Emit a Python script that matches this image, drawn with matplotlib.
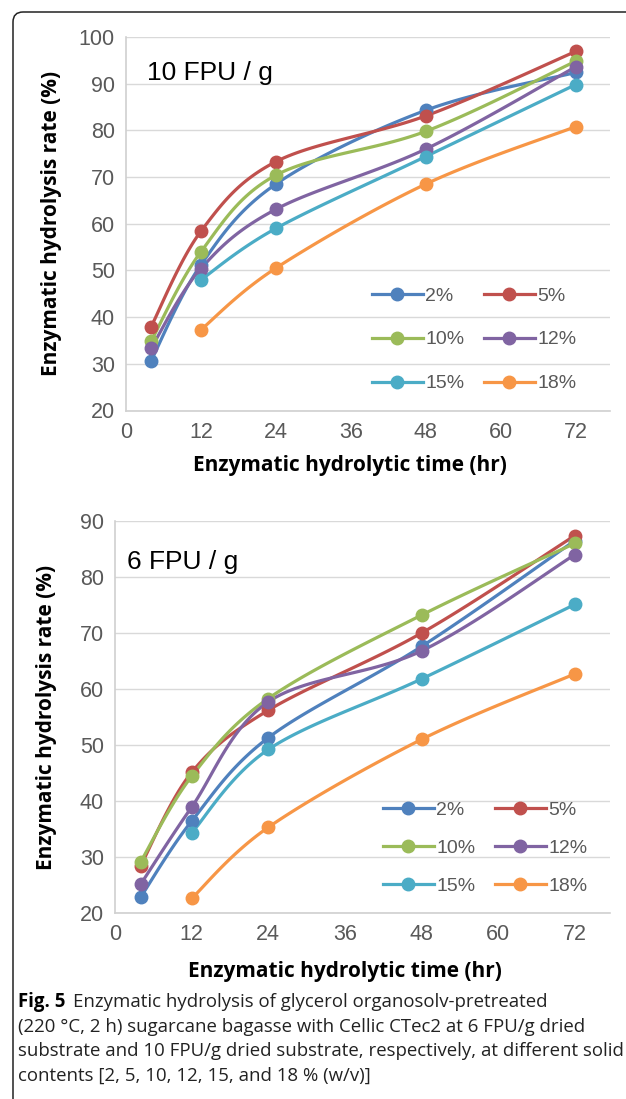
import numpy as np
import matplotlib.pyplot as plt
from matplotlib.lines import Line2D
from matplotlib.patches import FancyBboxPatch

# sampling times (hr)
hours = [4, 12, 24, 48, 72]
series_labels = ["2%", "5%", "10%", "12%", "15%", "18%"]
colors = ["#4F81BD", "#C0504D", "#9BBB59", "#8064A2", "#4BACC6", "#F79646"]

# 10 FPU/g, hydrolysis rate (%)
fpu10_2 = [30.6, 51.2, 68.5, 84.3, 92.4]
fpu10_5 = [37.9, 58.4, 73.3, 83.1, 96.9]
fpu10_10 = [34.8, 54.0, 70.4, 79.8, 94.8]
fpu10_12 = [33.3, 50.4, 63.1, 76.0, 93.6]
fpu10_15 = [np.nan, 48.0, 59.0, 74.4, 89.8]
fpu10_18 = [np.nan, 37.3, 50.5, 68.5, 80.8]

# 6 FPU/g, hydrolysis rate (%)
fpu6_2 = [22.8, 36.4, 51.3, 67.6, 86.5]
fpu6_5 = [28.4, 45.1, 56.2, 70.0, 87.4]
fpu6_10 = [29.1, 44.4, 58.3, 73.2, 86.0]
fpu6_12 = [25.1, 38.9, 57.7, 66.8, 84.0]
fpu6_15 = [np.nan, 34.3, 49.2, 61.8, 75.1]
fpu6_18 = [np.nan, 22.6, 35.3, 51.0, 62.7]

W, H = 626, 1099
fig = plt.figure(figsize=(W / 100, H / 100), dpi=100)
fig.patch.set_facecolor("white")

tick_font = ["Liberation Sans", "DejaVu Sans"]
label_font = ["Open Sans", "DejaVu Sans"]


def px(x, y):
    # pixel (from top-left) -> figure fraction
    return x / W, 1 - y / H


def smooth(xs, ys, n=30):
    # excel-like smoothed line (bezier through points)
    pts = [(x, y) for x, y in zip(xs, ys) if not np.isnan(y)]
    p = np.array(pts, dtype=float)
    out = []
    for i in range(len(p) - 1):
        p0 = p[i - 1] if i > 0 else p[i]
        p3 = p[i + 2] if i + 2 < len(p) else p[i + 1]
        c1 = p[i] + (p[i + 1] - p0) / 6
        c2 = p[i + 1] - (p3 - p[i]) / 6
        t = np.linspace(0, 1, n)[:, None]
        seg = ((1 - t) ** 3) * p[i] + 3 * ((1 - t) ** 2) * t * c1 + 3 * (1 - t) * t ** 2 * c2 + t ** 3 * p[i + 1]
        out.append(seg if i == 0 else seg[1:])
    out = np.vstack(out)
    return out[:, 0], out[:, 1]


def panel(rect, data, ylim, yticks, title, title_xy, leg_xy, leg_spacing, xlab_xy, ylab_x):
    ax = fig.add_axes(rect)
    for vals, c in zip(data, colors):
        sx, sy = smooth(hours, vals)
        ax.plot(sx, sy, color=c, lw=2.3, solid_capstyle="round", zorder=3)
        ax.plot(hours, vals, "o", color=c, ms=9, zorder=4)
    ax.set_xlim(0, 77.5)
    ax.set_ylim(*ylim)
    ax.set_xticks(range(0, 73, 12))
    ax.set_yticks(yticks)
    ax.grid(axis="y", color="#D9D9D9", lw=1)
    ax.set_axisbelow(True)
    for s in ["top", "right"]:
        ax.spines[s].set_visible(False)
    for s in ["left", "bottom"]:
        ax.spines[s].set_color("#D0D0D0")
        ax.spines[s].set_linewidth(1.2)
    ax.tick_params(length=0, labelsize=15.5, labelcolor="#595959", pad=8)
    for lab in ax.get_xticklabels() + ax.get_yticklabels():
        lab.set_family(tick_font)
    ax.text(*title_xy, title, transform=fig.transFigure, fontsize=19,
            family=tick_font, color="black", va="center", ha="left")
    # legend filled row by row like the original (2%, 5% / 10%, 12% / 15%, 18%)
    order = [0, 2, 4, 1, 3, 5]
    handles = [Line2D([], [], color=colors[i], lw=2.3, marker="o", ms=9) for i in order]
    labels = [series_labels[i] for i in order]
    ax.legend(handles, labels, ncol=2, frameon=False,
              loc="upper left", bbox_to_anchor=leg_xy, bbox_transform=fig.transFigure,
              prop={"family": tick_font, "size": 14}, labelcolor="#595959",
              handlelength=2.6, handletextpad=0.15, columnspacing=1.0,
              labelspacing=leg_spacing, borderpad=0, borderaxespad=0)
    fig.text(*xlab_xy, "Enzymatic hydrolytic time (hr)",
             ha="center", va="center", fontsize=15, fontweight="bold", family=label_font)
    fig.text(ylab_x, rect[1] + rect[3] / 2, "Enzymatic hydrolysis rate (%)",
             ha="center", va="center", rotation=90, fontsize=15, fontweight="bold",
             family=label_font)
    return ax


# top panel: 10 FPU/g
l, t = px(126, 37)
r, b = px(610, 410.5)
panel([l, b, r - l, t - b], [fpu10_2, fpu10_5, fpu10_10, fpu10_12, fpu10_15, fpu10_18],
      (20, 100), range(20, 101, 10), "10 FPU / g", px(147, 73), px(372, 287), 1.35,
      px(350, 466), px(52, 0)[0])

# bottom panel: 6 FPU/g
l, t = px(115, 521)
r, b = px(610, 913)
panel([l, b, r - l, t - b], [fpu6_2, fpu6_5, fpu6_10, fpu6_12, fpu6_15, fpu6_18],
      (20, 90), range(20, 91, 10), "6 FPU / g", px(127, 562), px(383, 801), 1.05,
      px(345, 971), px(47, 0)[0])

# outer frame with rounded corner (cropped on right / bottom)
frame = FancyBboxPatch(px(13, 1120), (W + 40) / W, (1120 - 12) / H,
                       boxstyle="round,pad=0,rounding_size=0.016",
                       transform=fig.transFigure, fill=False, ec="#222222", lw=1.1,
                       mutation_aspect=W / H)
fig.patches.append(frame)

# caption
cap_font = ["Open Sans", "DejaVu Sans"]
cap_size = 13.4
fig.canvas.draw()
rend = fig.canvas.get_renderer()
tb = fig.text(*px(18, 1002), "Fig. 5", fontsize=cap_size, fontweight="bold",
              family=cap_font, va="center", ha="left")
bb = tb.get_window_extent(renderer=rend)
fig.text(bb.x1 / W + 8 / W, px(0, 1002)[1],
         "Enzymatic hydrolysis of glycerol organosolv-pretreated",
         fontsize=cap_size, family=cap_font, va="center", ha="left", color="#222222")
cap_lines = ["(220 °C, 2 h) sugarcane bagasse with Cellic CTec2 at 6 FPU/g dried",
             "substrate and 10 FPU/g dried substrate, respectively, at different solid",
             "contents [2, 5, 10, 12, 15, and 18 % (w/v)]"]
for i, line in enumerate(cap_lines):
    fig.text(*px(18, 1026.5 + 24.5 * i), line, fontsize=cap_size, family=cap_font,
             va="center", ha="left", color="#222222")

fig.savefig("out.png", dpi=100)
